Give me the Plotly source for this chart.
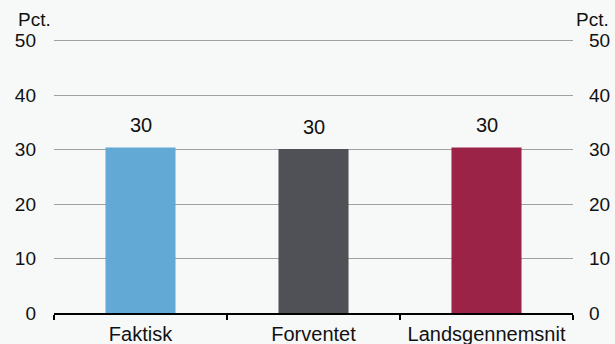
import plotly.graph_objects as go

categories = ["Faktisk", "Forventet", "Landsgennemsnit"]
values = [30.4, 30.1, 30.4]
labels = ["30", "30", "30"]
bar_colors = ["#62AAD5", "#505157", "#9B2347"]
y_ticks = [0, 10, 20, 30, 40, 50]

FONT = "Liberation Sans, Arial, sans-serif"
BG = "#F7F9F9"

fig = go.Figure()

fig.add_trace(
    go.Bar(
        x=categories,
        y=values,
        marker=dict(color=bar_colors, line=dict(width=0)),
        width=0.405,
        showlegend=False,
        hoverinfo="skip",
    )
)

# invisible trace so the right-hand axis gets drawn
fig.add_trace(
    go.Scatter(
        x=categories,
        y=values,
        yaxis="y2",
        mode="markers",
        marker=dict(opacity=0),
        showlegend=False,
        hoverinfo="skip",
    )
)

# value labels above bars
for cat, val, lab in zip(categories, values, labels):
    fig.add_annotation(
        x=cat, y=val, text=lab, showarrow=False,
        yanchor="bottom", yshift=9,
        font=dict(size=20, color="#111111", family=FONT),
    )

# unit labels
for xpos, anchor in [(-0.0732, "left"), (1.0732, "right")]:
    fig.add_annotation(
        xref="paper", yref="paper", x=xpos, y=1.072, text="Pct.",
        showarrow=False, xanchor=anchor, yanchor="middle",
        font=dict(size=19, color="#111111", family=FONT),
    )

axis_font = dict(size=19, color="#111111", family=FONT)
cat_font = dict(size=20, color="#111111", family=FONT)

fig.update_layout(
    width=615,
    height=344,
    margin=dict(l=54, r=42, t=38.9, b=31, autoexpand=False),
    paper_bgcolor=BG,
    plot_bgcolor=BG,
    font=dict(family=FONT),
    xaxis=dict(
        type="category",
        showline=True,
        linecolor="#000000",
        linewidth=1.5,
        ticks="outside",
        ticklen=5,
        tickwidth=1.5,
        tickcolor="#000000",
        tickson="boundaries",
        showgrid=False,
        tickfont=cat_font,
        ticklabelstandoff=2,
        range=[-0.5, 2.5],
        automargin=False,
    ),
    yaxis=dict(
        range=[0, 50.3],
        tickvals=y_ticks,
        showgrid=True,
        gridcolor="#A0A0A0",
        gridwidth=1,
        zeroline=False,
        showline=False,
        ticks="",
        tickfont=axis_font,
        ticklabelstandoff=17,
        automargin=False,
    ),
    yaxis2=dict(
        range=[0, 50.3],
        tickvals=y_ticks,
        overlaying="y",
        side="right",
        showgrid=False,
        zeroline=False,
        showline=False,
        ticks="",
        tickfont=axis_font,
        ticklabelstandoff=15,
        automargin=False,
    ),
)

fig.write_html(
    "out.html",
    config={"displayModeBar": False},
    post_script="document.body.style.margin='0';document.body.style.overflow='hidden';",
)
